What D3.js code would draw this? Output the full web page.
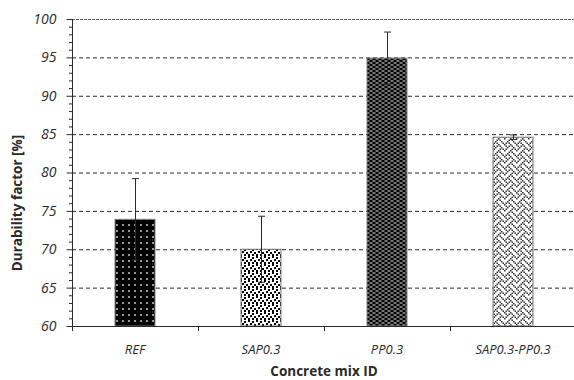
<!DOCTYPE html>
<html>
<head>
<meta charset="utf-8">
<script src="https://cdn.jsdelivr.net/npm/d3@7"></script>
<style>
  body{margin:0;background:#fff;}
  svg{display:block;font-family:"Open Sans",sans-serif;}
</style>
</head>
<body>
<svg id="chart" width="574" height="380"></svg>
<script>
// data
const mixes = ["REF", "SAP0.3", "PP0.3", "SAP0.3-PP0.3"];
const durability = [73.9, 70.0, 94.9, 84.6];
const errors = [5.3, 4.3, 3.4, 0.3];
const patterns = ["pDots", "pConfetti", "pBrick", "pWeave"];
const yTicks = [60, 65, 70, 75, 80, 85, 90, 95, 100];

const svg = d3.select("#chart");
const W = 574, H = 380;
const pLeft = 72, pRight = 576, pTop = 19, pBottom = 326;
const ink = "#2a2a2a";

const x = d3.scaleBand().domain(mixes).range([pLeft, pRight])
    .paddingInner(0.683).paddingOuter(0.3415);
const y = d3.scaleLinear().domain([60, 100]).range([pBottom, pTop]);
const step = x.step();

// patterns for bar fills
const defs = svg.append("defs");
//black with white dots
let p = defs.append("pattern").attr("id", "pDots").attr("patternUnits", "userSpaceOnUse")
    .attr("width", 6).attr("height", 6);
p.append("rect").attr("width", 6).attr("height", 6).attr("fill", "#000");
p.append("circle").attr("cx", 3).attr("cy", 3).attr("r", 0.9).attr("fill", "#ddd");
//white with black confetti
p = defs.append("pattern").attr("id", "pConfetti").attr("patternUnits", "userSpaceOnUse")
    .attr("width", 8).attr("height", 8);
p.append("rect").attr("width", 8).attr("height", 8).attr("fill", "#fff");
[[0, 0], [4, 1], [2, 3], [6, 4], [0, 6], [4, 6]].forEach(d => {
    p.append("rect").attr("x", d[0]).attr("y", d[1]).attr("width", 2).attr("height", 2).attr("fill", "#000");
});
//black with white short dashes, offset rows
p = defs.append("pattern").attr("id", "pBrick").attr("patternUnits", "userSpaceOnUse")
    .attr("width", 6).attr("height", 4);
p.append("rect").attr("width", 6).attr("height", 4).attr("fill", "#000");
p.append("rect").attr("x", 0.5).attr("y", 0.5).attr("width", 3).attr("height", 1).attr("fill", "#eee");
p.append("rect").attr("x", 3.5).attr("y", 2.5).attr("width", 3).attr("height", 1).attr("fill", "#eee");
p.append("rect").attr("x", -2.5).attr("y", 2.5).attr("width", 3).attr("height", 1).attr("fill", "#eee");
//weave, 8x8 bitmap drawn at 1.5px per cell
const weaveRows = [0x88, 0x54, 0x22, 0x45, 0x88, 0x14, 0x22, 0x51];
const cell = 1.5;
p = defs.append("pattern").attr("id", "pWeave").attr("patternUnits", "userSpaceOnUse")
    .attr("width", 8 * cell).attr("height", 8 * cell);
p.append("rect").attr("width", 8 * cell).attr("height", 8 * cell).attr("fill", "#fff");
weaveRows.forEach((bits, r) => {
    for(let c = 0; c < 8; c++){
        if(bits & (0x80 >> c)){
            p.append("rect").attr("x", c * cell).attr("y", r * cell)
                .attr("width", cell).attr("height", cell).attr("fill", "#333");
        }
    }
});

// gridlines
svg.append("g").selectAll("line").data(yTicks.filter(v => v > 60)).join("line")
    .attr("x1", pLeft).attr("x2", W)
    .attr("y1", d => y(d) + 0.5).attr("y2", d => y(d) + 0.5)
    .attr("stroke", d => d == 100 ? "#555" : ink)
    .attr("stroke-width", 1)
    .attr("stroke-dasharray", d => d == 100 ? "3,1" : "4,3");

// bars
svg.append("g").selectAll("rect").data(mixes).join("rect")
    .attr("x", d => x(d)).attr("width", x.bandwidth())
    .attr("y", (d, i) => y(durability[i]))
    .attr("height", (d, i) => y(60) - y(durability[i]))
    .attr("fill", (d, i) => `url(#${patterns[i]})`)
    .attr("stroke", "#777").attr("stroke-width", 1);

// error bars
const eb = svg.append("g").attr("stroke", ink).attr("stroke-width", 1);
mixes.forEach((m, i) => {
    const cx = Math.round(x(m) + x.bandwidth() / 2) + 0.5;
    const hi = y(durability[i] + errors[i]), lo = y(durability[i] - errors[i]);
    eb.append("line").attr("x1", cx).attr("x2", cx).attr("y1", hi).attr("y2", lo);
    eb.append("line").attr("x1", cx - 3.5).attr("x2", cx + 3.5).attr("y1", hi).attr("y2", hi);
    eb.append("line").attr("x1", cx - 3.5).attr("x2", cx + 3.5).attr("y1", lo).attr("y2", lo);
});

// y axis
const yAxis = svg.append("g").attr("transform", `translate(${pLeft + 0.5},0)`)
    .call(d3.axisLeft(y).tickValues(yTicks).tickSize(6).tickPadding(10).tickFormat(d3.format("d")));
yAxis.select(".domain").attr("d", `M0,${pTop}V${pBottom}`).attr("stroke", ink);
yAxis.selectAll(".tick line").attr("stroke", ink);
yAxis.selectAll("text").attr("font-size", 14).attr("font-style", "italic")
    .attr("font-family", "Open Sans").attr("fill", ink);
yAxis.append("g").selectAll("line").data(d3.range(61, 100).filter(v => v % 5 != 0)).join("line")
    .attr("x1", -3.5).attr("x2", 0).attr("y1", d => y(d) + 0.5).attr("y2", d => y(d) + 0.5)
    .attr("stroke", ink);

// x axis
const xa = svg.append("g");
xa.append("line").attr("x1", pLeft).attr("x2", W).attr("y1", pBottom + 0.5).attr("y2", pBottom + 0.5)
    .attr("stroke", ink);
xa.selectAll("line.tk").data(mixes).join("line").attr("class", "tk")
    .attr("x1", d => Math.round(x(d) + x.bandwidth() / 2 - step / 2) + 0.5)
    .attr("x2", d => Math.round(x(d) + x.bandwidth() / 2 - step / 2) + 0.5)
    .attr("y1", pBottom).attr("y2", pBottom + 5).attr("stroke", ink);
xa.selectAll("text").data(mixes).join("text")
    .attr("x", d => x(d) + x.bandwidth() / 2).attr("y", pBottom + 28)
    .attr("text-anchor", "middle").attr("font-size", 13).attr("font-style", "italic")
    .attr("fill", ink).text(d => d);

// axis titles
svg.append("text").attr("transform", `translate(22,203) rotate(-90)`)
    .attr("text-anchor", "middle").attr("font-size", 13.5).attr("font-weight", "bold")
    .attr("fill", ink).text("Durability factor [%]");
svg.append("text").attr("x", (pLeft + pRight) / 2).attr("y", 376)
    .attr("text-anchor", "middle").attr("font-size", 13.5).attr("font-weight", "bold")
    .attr("fill", ink).text("Concrete mix ID");
</script>
</body>
</html>
